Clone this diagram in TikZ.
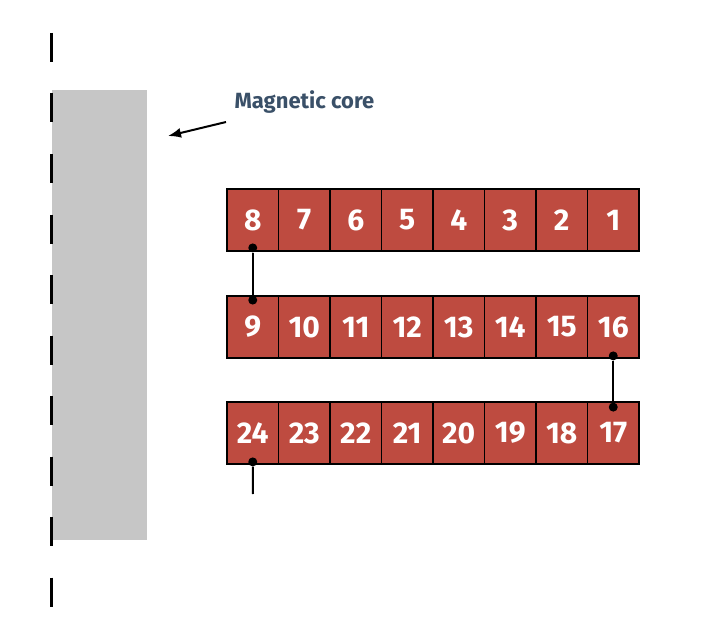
\documentclass[tikz,border=0pt]{standalone}
\usepackage{fontspec}
\setmainfont{Fira Sans}
\usetikzlibrary{arrows.meta}
\definecolor{cellred}{HTML}{BE4B40}
\definecolor{coregray}{HTML}{C6C6C6}
\definecolor{labelblue}{HTML}{3A5068}
\tikzset{
  cell/.style={draw=black, line width=1.8pt, fill=cellred, minimum width=51.5pt, minimum height=62pt, inner sep=0pt, text=white, font=\fontsize{30}{30}\selectfont\bfseries},
  link/.style={line width=2pt},
  dotc/.style={circle, fill=black, inner sep=0pt, minimum size=9pt}
}
\begin{document}
\begin{tikzpicture}[x=1pt,y=-1pt]
\useasboundingbox (0,0) rectangle (705,634);
\node[fill=coregray, minimum width=95pt, minimum height=450pt, inner sep=0pt, anchor=north west] (core) at (52,90) {};
\draw[line width=3pt, dash pattern=on 29pt off 31.5pt] (51,33) coordinate (d1) -- (51,607) coordinate (d2);
\node[text=labelblue, font=\fontsize{22}{22}\selectfont\bfseries, anchor=west] (lbl) at (231,102) {Magnetic core};
\coordinate (as) at (226,122);
\coordinate (ae) at (168,136);
\draw[line width=2pt, -{Latex[length=13pt,width=10pt]}] (as) -- (ae);
\foreach \n [count=\i from 0] in {8,7,6,5,4,3,2,1} {
  \node[cell] (c\n) at (252.75+51.5*\i,220) {\n};
}
\foreach \n [count=\i from 0] in {9,10,11,12,13,14,15,16} {
  \node[cell] (c\n) at (252.75+51.5*\i,327) {\n};
}
\foreach \n [count=\i from 0] in {24,23,22,21,20,19,18,17} {
  \node[cell] (c\n) at (252.75+51.5*\i,433) {\n};
}
\node[dotc] (p8) at ([yshift=4pt]c8.south) {};
\node[dotc] (p9) at ([yshift=-5pt]c9.north) {};
\draw[link] (p8) -- (p9);
\node[dotc] (p16) at ([yshift=3pt]c16.south) {};
\node[dotc] (p17) at ([yshift=-6pt]c17.north) {};
\draw[link] (p16) -- (p17);
\node[dotc] (p24) at ([yshift=3pt]c24.south) {};
\coordinate (e24) at (253,494);
\draw[link] (p24) -- (e24);
\end{tikzpicture}
\end{document}
